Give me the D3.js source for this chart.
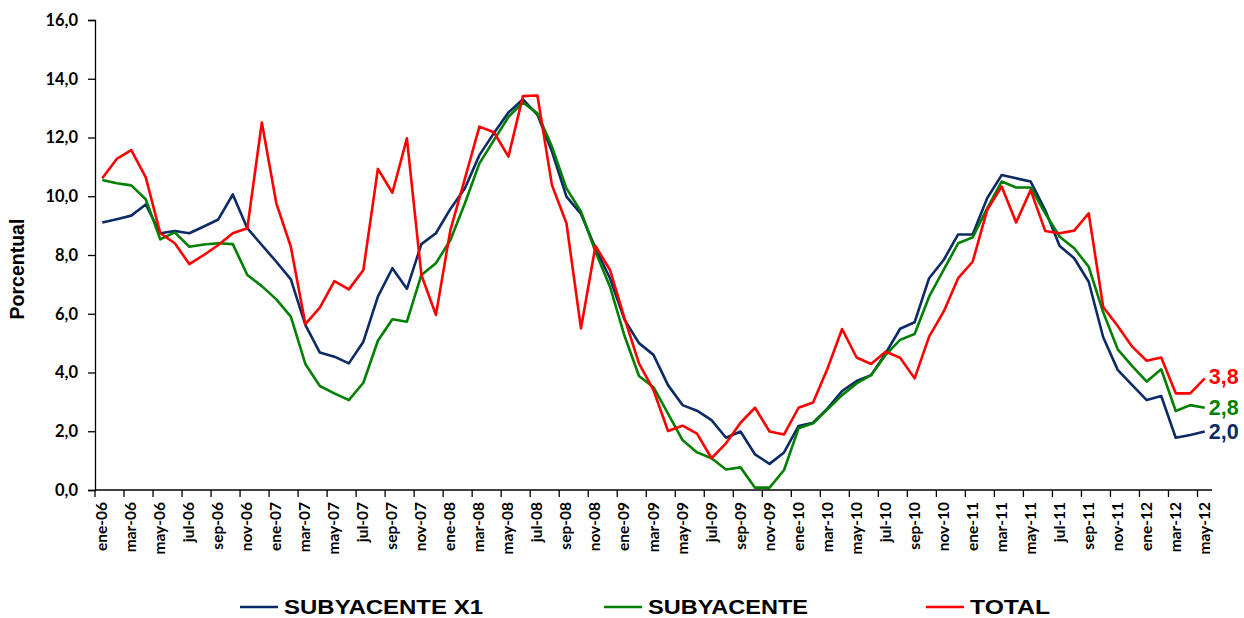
<!DOCTYPE html>
<html>
<head>
<meta charset="utf-8">
<script src="https://cdn.jsdelivr.net/npm/d3@7"></script>
<style>
  body { margin: 0; background: #fff; }
  svg { display: block; }
</style>
</head>
<body>
<div id="chart"></div>
<script>
// months ene-06 .. may-12
let monthNames = ['ene', 'feb', 'mar', 'abr', 'may', 'jun', 'jul', 'ago', 'sep', 'oct', 'nov', 'dic']
let months = []
for (let y = 6; y <= 12; y++) {
  for (let m = 0; m < 12; m++) {
    if (y === 12 && m > 4) break
    months.push(monthNames[m] + '-' + String(y).padStart(2, '0'))
  }
}

let yTicks = [0, 2, 4, 6, 8, 10, 12, 14, 16]

let subX1 = [9.11, 9.22, 9.34, 9.72, 8.74, 8.82, 8.74, 8.97, 9.21, 10.06, 8.91, 8.34,
  7.77, 7.17, 5.62, 4.68, 4.54, 4.31, 5.05, 6.58, 7.55, 6.85, 8.37, 8.74,
  9.57, 10.27, 11.40, 12.15, 12.85, 13.30, 12.77, 11.52, 9.99, 9.40, 8.23, 7.21,
  5.80, 5.00, 4.60, 3.57, 2.89, 2.70, 2.38, 1.78, 1.99, 1.21, 0.89, 1.28,
  2.18, 2.29, 2.78, 3.37, 3.71, 3.91, 4.65, 5.49, 5.71, 7.21, 7.83, 8.70,
  8.70, 9.93, 10.72, 10.61, 10.50, 9.53, 8.31, 7.89, 7.09, 5.20, 4.09, 3.57,
  3.06, 3.20, 1.78, 1.87, 1.99]

let sub = [10.55, 10.44, 10.37, 9.90, 8.53, 8.77, 8.28, 8.36, 8.40, 8.37, 7.32, 6.94,
  6.49, 5.90, 4.29, 3.54, 3.29, 3.06, 3.65, 5.08, 5.81, 5.73, 7.32, 7.72,
  8.51, 9.76, 11.12, 11.91, 12.70, 13.19, 12.82, 11.69, 10.27, 9.48, 8.11, 6.92,
  5.25, 3.88, 3.50, 2.60, 1.70, 1.28, 1.08, 0.70, 0.77, 0.08, 0.08, 0.68,
  2.10, 2.27, 2.75, 3.23, 3.63, 3.91, 4.60, 5.11, 5.31, 6.58, 7.49, 8.40,
  8.60, 9.59, 10.50, 10.30, 10.30, 9.42, 8.62, 8.23, 7.60, 6.05, 4.79, 4.22,
  3.69, 4.11, 2.69, 2.89, 2.80]

let total = [10.61, 11.27, 11.57, 10.64, 8.74, 8.40, 7.69, 8.00, 8.34, 8.74, 8.91, 12.51,
  9.76, 8.28, 5.65, 6.21, 7.11, 6.83, 7.49, 10.93, 10.12, 11.97, 7.32, 5.96,
  8.85, 10.60, 12.37, 12.18, 11.35, 13.41, 13.43, 10.38, 9.08, 5.50, 8.31, 7.49,
  5.85, 4.31, 3.40, 2.01, 2.19, 1.92, 1.08, 1.59, 2.29, 2.80, 1.99, 1.89,
  2.80, 2.98, 4.14, 5.48, 4.51, 4.29, 4.71, 4.50, 3.80, 5.22, 6.07, 7.21,
  7.77, 9.53, 10.33, 9.11, 10.21, 8.82, 8.74, 8.83, 9.42, 6.23, 5.58, 4.88,
  4.40, 4.51, 3.29, 3.29, 3.80]

let seriesNames = ['SUBYACENTE X1', 'SUBYACENTE', 'TOTAL']
let seriesColors = ['#0c2a66', '#008000', '#ff0000']
let seriesData = [subX1, sub, total]

let W = 1244, H = 618
let margin = {top: 20, right: 32, bottom: 128, left: 95}

let svg = d3.select('#chart')
  .append('svg')
  .attr('width', W)
  .attr('height', H)

let x = d3.scaleBand()
  .domain(months)
  .range([margin.left, W - margin.right])
  .padding(0)

let y = d3.scaleLinear()
  .domain([0, 16])
  .range([H - margin.bottom, margin.top])

let fmt = v => v.toFixed(1).replace('.', ',')

// Y axis
let yAxis = svg.append('g')
  .attr('transform', `translate(${margin.left}, 0)`)
  .call(d3.axisLeft(y).tickValues(yTicks).tickFormat(fmt).tickSize(7).tickPadding(10))
yAxis.select('.domain').attr('stroke', '#000').attr('stroke-width', 1.3)
yAxis.selectAll('.tick line').attr('stroke', '#000').attr('stroke-width', 1.3)
yAxis.selectAll('text')
  .attr('font-family', 'Lato, sans-serif')
  .attr('font-weight', 'bold')
  .attr('font-size', 16.5)
  .attr('fill', '#000')

// X axis: ticks every 2 months at category borders, labels at centers
let xAxisG = svg.append('g')
  .attr('transform', `translate(0, ${y(0)})`)
xAxisG.append('line')
  .attr('x1', margin.left).attr('x2', W - margin.right)
  .attr('stroke', '#000').attr('stroke-width', 1.3)
let labelled = months.filter((m, i) => i % 2 === 0)
xAxisG.selectAll('.xt')
  .data(labelled)
  .enter()
  .append('line')
  .attr('class', 'xt')
  .attr('x1', m => x(m)).attr('x2', m => x(m))
  .attr('y1', 0).attr('y2', 7)
  .attr('stroke', '#000').attr('stroke-width', 1.3)
xAxisG.selectAll('.xl')
  .data(labelled)
  .enter()
  .append('text')
  .attr('class', 'xl')
  .attr('transform', m => `translate(${x(m) + x.bandwidth() / 2 + 5}, 12) rotate(-90)`)
  .attr('text-anchor', 'end')
  .attr('font-family', 'Lato, sans-serif')
  .attr('font-weight', 'bold')
  .attr('font-size', 15.5)
  .text(m => m)

// Y title
svg.append('text')
  .attr('transform', `translate(24, ${(y(16) + y(0)) / 2 + 14}) rotate(-90)`)
  .attr('text-anchor', 'middle')
  .attr('font-family', 'Liberation Sans, Arial, sans-serif')
  .attr('font-weight', 'bold')
  .attr('font-size', 19.5)
  .text('Porcentual')

// Lines
let line = d3.line()
  .x((d, i) => x(months[i]) + x.bandwidth() / 2)
  .y(d => y(d))

svg.append('g')
  .selectAll('path')
  .data(seriesData)
  .enter()
  .append('path')
  .attr('d', d => line(d))
  .attr('fill', 'none')
  .attr('stroke', (d, i) => seriesColors[i])
  .attr('stroke-width', 2.6)
  .attr('stroke-linejoin', 'round')

// End labels
let last = months[months.length - 1]
let endDy = [7, 7, 6]
svg.append('g')
  .selectAll('text')
  .data(seriesData)
  .enter()
  .append('text')
  .attr('x', x(last) + x.bandwidth() / 2 + 4)
  .attr('y', (d, i) => y(d[d.length - 1]) + endDy[i])
  .attr('font-family', 'Liberation Sans, Arial, sans-serif')
  .attr('font-weight', 'bold')
  .attr('font-size', 21.5)
  .attr('fill', (d, i) => seriesColors[i])
  .text(d => fmt(d[d.length - 1]))

// Legend
let legendX = [240, 604, 926]
let legendW = [199, 160, 80]
let lg = svg.append('g')
  .selectAll('g')
  .data(seriesNames)
  .enter()
  .append('g')
  .attr('transform', (d, i) => `translate(${legendX[i]}, 607)`)
lg.append('line')
  .attr('x1', 0).attr('x2', 38)
  .attr('stroke', (d, i) => seriesColors[i])
  .attr('stroke-width', 2.6)
lg.append('text')
  .attr('x', 44)
  .attr('y', 7)
  .attr('font-family', 'Liberation Sans, Arial, sans-serif')
  .attr('font-weight', 'bold')
  .attr('font-size', 20)
  .attr('textLength', (d, i) => legendW[i])
  .attr('lengthAdjust', 'spacingAndGlyphs')
  .text(d => d)
</script>
</body>
</html>
